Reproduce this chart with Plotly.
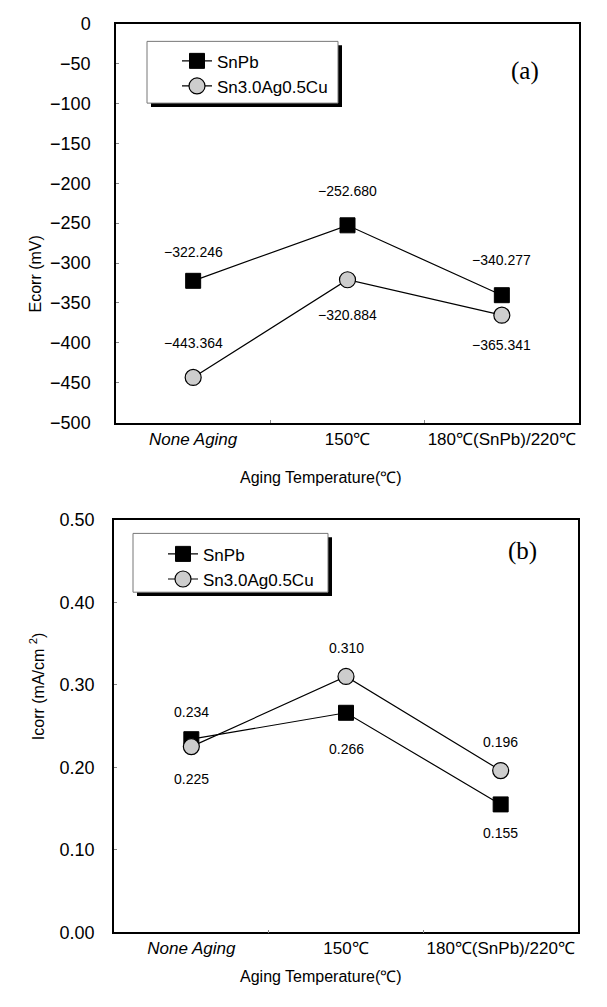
import plotly.graph_objects as go

# ---------------- data ----------------
categories = ["None Aging", "150℃", "180℃(SnPb)/220℃"]
tick_labels = ["<i>None Aging</i>", "150℃", "180℃(SnPb)/220℃"]
series_names = ["SnPb", "Sn3.0Ag0.5Cu"]

ecorr_snpb = [-322.246, -252.680, -340.277]
ecorr_sac = [-443.364, -320.884, -365.341]
icorr_snpb = [0.234, 0.266, 0.155]
icorr_sac = [0.225, 0.310, 0.196]

# label offsets (pixels, + = above)
ecorr_snpb_shift = [29, 34, 35]
ecorr_sac_shift = [34, -35, -30]
icorr_snpb_shift = [27, -36, -29]
icorr_sac_shift = [-32, 28, 29]

W, H = 607, 1007
FONT = "Liberation Sans, Arial, sans-serif"


def px_x(p):
    return p / W


def px_y(p):
    return 1 - p / H


fig = go.Figure()

sq = dict(symbol="square", size=15, color="black", line=dict(color="black", width=1))
ci = dict(symbol="circle", size=16, color="#cdcdcd", line=dict(color="black", width=1.2))
ln = dict(color="black", width=1.2)

fig.add_trace(go.Scatter(x=categories, y=ecorr_snpb, mode="lines+markers", name=series_names[0],
                         marker=sq, line=ln, xaxis="x", yaxis="y", legend="legend"))
fig.add_trace(go.Scatter(x=categories, y=ecorr_sac, mode="lines+markers", name=series_names[1],
                         marker=ci, line=ln, xaxis="x", yaxis="y", legend="legend"))
fig.add_trace(go.Scatter(x=categories, y=icorr_snpb, mode="lines+markers", name=series_names[0],
                         marker=sq, line=ln, xaxis="x2", yaxis="y2", legend="legend2"))
fig.add_trace(go.Scatter(x=categories, y=icorr_sac, mode="lines+markers", name=series_names[1],
                         marker=ci, line=ln, xaxis="x2", yaxis="y2", legend="legend2"))

annotations = []
for vals, shifts in ((ecorr_snpb, ecorr_snpb_shift), (ecorr_sac, ecorr_sac_shift)):
    for c, v, s in zip(categories, vals, shifts):
        annotations.append(dict(x=c, y=v, xref="x", yref="y", text=f"{v:.3f}".replace("-", "−"),
                                showarrow=False, yshift=s, font=dict(family=FONT, size=14, color="black")))
for vals, shifts in ((icorr_snpb, icorr_snpb_shift), (icorr_sac, icorr_sac_shift)):
    for c, v, s in zip(categories, vals, shifts):
        annotations.append(dict(x=c, y=v, xref="x2", yref="y2", text=f"{v:.3f}",
                                showarrow=False, yshift=s, font=dict(family=FONT, size=14, color="black")))

title_font = dict(family=FONT, size=16, color="black")
serif = dict(family="Liberation Serif, Times New Roman, serif", size=25, color="black")
annotations += [
    dict(x=px_x(321), y=px_y(477), xref="paper", yref="paper", text="Aging Temperature(℃)",
         showarrow=False, font=title_font),
    dict(x=px_x(321), y=px_y(997), xref="paper", yref="paper", text="Aging Temperature(℃)",
         showarrow=False, font=title_font),
    dict(x=px_x(25), y=px_y(228), xref="paper", yref="paper", text="Ecorr (mV)", textangle=-90,
         showarrow=False, font=title_font),
    dict(x=px_x(25), y=px_y(747), xref="paper", yref="paper", text="Icorr (mA/cm <sup>2</sup>)",
         textangle=-90, showarrow=False, font=title_font),
    dict(x=px_x(541), y=px_y(46), xref="paper", yref="paper", text="(a)", showarrow=False, font=serif),
    dict(x=px_x(539), y=px_y(552), xref="paper", yref="paper", text="(b)", showarrow=False, font=serif),
]

tick_font = dict(family=FONT, size=17, color="black")
xcommon = dict(type="category", categoryorder="array", categoryarray=categories,
               tickvals=categories, ticktext=tick_labels, range=[-0.5, 2.5], tickangle=0,
               showline=True, linecolor="black", linewidth=1.5, mirror=True,
               ticks="inside", ticklen=3, tickcolor="#888", tickson="boundaries",
               showgrid=False, zeroline=False, tickfont=tick_font, fixedrange=True)
ycommon = dict(showline=True, linecolor="black", linewidth=1.5, mirror=True,
               ticks="inside", ticklen=3, tickcolor="#888", showgrid=False, zeroline=False,
               tickfont=dict(family=FONT, size=18, color="black"), fixedrange=True)

legend_common = dict(bgcolor="rgba(0,0,0,0)", borderwidth=0,
                     font=dict(family=FONT, size=17, color="black"),
                     xanchor="left", yanchor="top", tracegroupgap=0, itemwidth=30)


def legend_box(x0, y0, x1, y1, off=4):
    return [
        dict(type="rect", xref="paper", yref="paper", x0=px_x(x0 + off), x1=px_x(x1 + off),
             y0=px_y(y1 + off), y1=px_y(y0 + off), fillcolor="black", line=dict(width=0), layer="above"),
        dict(type="rect", xref="paper", yref="paper", x0=px_x(x0), x1=px_x(x1),
             y0=px_y(y1), y1=px_y(y0), fillcolor="white", line=dict(width=1, color="#777"), layer="above"),
    ]


shapes = legend_box(147, 32, 338, 95) + legend_box(133, 534, 328, 594)

fig.update_layout(
    width=W, height=H,
    margin=dict(l=0, r=0, t=0, b=0),
    paper_bgcolor="white", plot_bgcolor="white",
    xaxis=dict(domain=[px_x(116), px_x(579)], anchor="y", **xcommon),
    yaxis=dict(domain=[px_y(421), px_y(14)], anchor="x", range=[-500, 0], dtick=50,
               ticklabelstandoff=20, **ycommon),
    xaxis2=dict(domain=[px_x(114), px_x(578)], anchor="y2", **xcommon),
    yaxis2=dict(domain=[px_y(941), px_y(520)], anchor="x2", range=[0, 0.5], dtick=0.1,
                tickformat=".2f", ticklabelstandoff=14, **ycommon),
    legend=dict(x=px_x(177), y=px_y(34), **legend_common),
    legend2=dict(x=px_x(163), y=px_y(537), **legend_common),
    annotations=annotations,
    shapes=shapes,
    font=dict(family=FONT, color="black"),
)

fig.write_html("out.html")
